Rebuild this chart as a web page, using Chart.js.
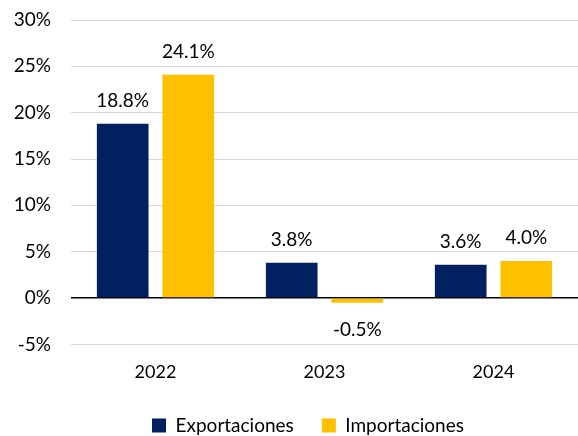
<!DOCTYPE html>
<html>
<head>
<meta charset="utf-8">
<script src="https://cdn.jsdelivr.net/npm/chart.js@4"></script>
<style>
    html, body { margin: 0; padding: 0; background: #ffffff; }
    #chart { display: block; }
</style>
</head>
<body>
<canvas id="chart" width="578" height="436"></canvas>
<script>
const years = ['2022', '2023', '2024'];
const exportaciones = [18.8, 3.8, 3.6];
const importaciones = [24.1, -0.5, 4.0];
const seriesNames = ['Exportaciones', 'Importaciones'];

const FONT = 'Lato, "Open Sans", sans-serif';

// draws the value above (or below, if negative) each bar
const barLabels = {
    id: 'barLabels',
    afterDatasetsDraw(chart) {
        const ctx = chart.ctx;
        ctx.save();
        ctx.font = '19px ' + FONT;
        ctx.fillStyle = '#000000';
        ctx.textAlign = 'center';
        ctx.textBaseline = 'middle';
        chart.data.datasets.forEach((ds, i) => {
            chart.getDatasetMeta(i).data.forEach((bar, j) => {
                const v = ds.data[j];
                const y = v >= 0 ? bar.y - 23 : bar.y + 27;
                ctx.fillText(v.toFixed(1) + '%', bar.x, y);
            });
        });
        ctx.restore();
    }
};

// legend in the reference sits a bit right of the canvas centre
const shiftLegend = {
    id: 'shiftLegend',
    afterLayout(chart) {
        chart.legend.left += 38;
        chart.legend.top -= 4;
    }
};

new Chart(document.getElementById('chart'), {
    type: 'bar',
    data: {
        labels: years,
        datasets: [
            {
                label: seriesNames[0],
                data: exportaciones,
                backgroundColor: '#002060',
                categoryPercentage: 0.776,
                barPercentage: 0.788
            },
            {
                label: seriesNames[1],
                data: importaciones,
                backgroundColor: '#FFC000',
                categoryPercentage: 0.776,
                barPercentage: 0.788
            }
        ]
    },
    options: {
        responsive: false,
        animation: false,
        layout: { padding: { top: 20, right: 0, left: 0, bottom: 0 } },
        scales: {
            x: {
                grid: { display: false },
                border: { display: false },
                ticks: { color: '#000000', font: { family: FONT, size: 18 }, padding: 9 }
            },
            y: {
                min: -5,
                max: 30,
                afterFit(scale) {
                    scale.width = 71;
                    scale.paddingTop = 0;
                    scale.paddingBottom = 0;
                },
                border: { display: false },
                grid: {
                    drawTicks: false,
                    lineWidth: ctx => ctx.tick && ctx.tick.value === 0 ? 1.5 : 1,
                    color: ctx => ctx.tick && ctx.tick.value === 0 ? '#000000' : '#d9d9d9'
                },
                ticks: {
                    stepSize: 5,
                    color: '#000000',
                    padding: 20,
                    font: { family: FONT, size: 19 },
                    callback: v => v + '%'
                }
            }
        },
        plugins: {
            tooltip: { enabled: false },
            legend: {
                position: 'bottom',
                maxHeight: 44,
                labels: {
                    color: '#000000',
                    font: { family: FONT, size: 19 },
                    boxWidth: 14,
                    boxHeight: 14,
                    padding: 28
                }
            }
        }
    },
    plugins: [barLabels, shiftLegend]
});
</script>
</body>
</html>
